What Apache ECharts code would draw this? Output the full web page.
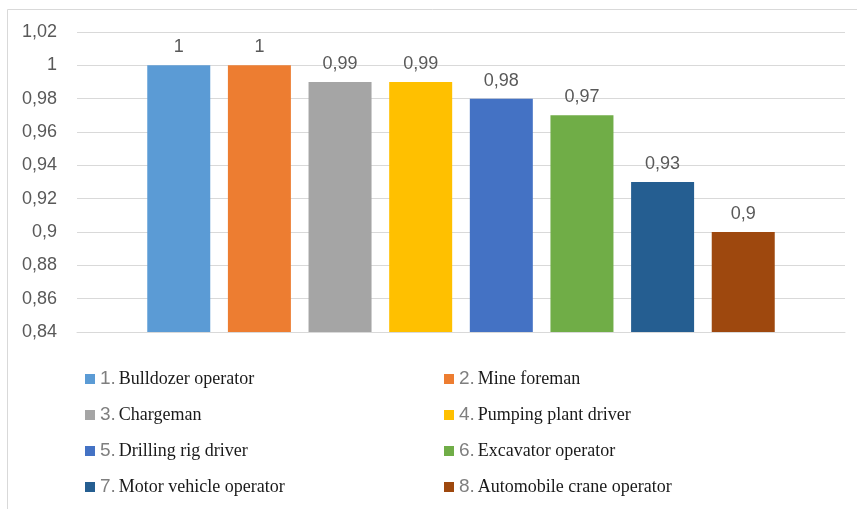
<!DOCTYPE html>
<html>
<head>
<meta charset="utf-8">
<script src="https://cdn.jsdelivr.net/npm/echarts@6/dist/echarts.min.js"></script>
<style>html,body{margin:0;padding:0;background:#fff}#c{width:857px;height:509px}</style>
</head>
<body>
<div id="c"></div>
<script>
const numbers = ['1.', '2.', '3.', '4.', '5.', '6.', '7.', '8.'];
const names = ['Bulldozer operator', 'Mine foreman', 'Chargeman', 'Pumping plant driver', 'Drilling rig driver', 'Excavator operator', 'Motor vehicle operator', 'Automobile crane operator'];
const values = [1, 1, 0.99, 0.99, 0.98, 0.97, 0.93, 0.9];
const colors = ['#5B9BD5', '#ED7D31', '#A5A5A5', '#FFC000', '#4472C4', '#70AD47', '#255E91', '#9E480E'];
const category = ['Profession'];

const fmt = v => String(parseFloat(Number(v).toFixed(4))).replace('.', ',');
const seriesNames = names.map((n, i) => numbers[i] + ' ' + n);

const chart = echarts.init(document.getElementById('c'));
const legendBase = (data, left) => ({
  data: data,
  orient: 'vertical',
  left: left,
  top: 369,
  padding: 0,
  itemWidth: 10,
  itemHeight: 10,
  itemGap: 16,
  itemTextGap: 6,
  icon: 'rect',
  formatter: function (name) {
    const i = seriesNames.indexOf(name);
    return '{n|' + numbers[i] + '}{t|' + names[i] + '}';
  },
  textStyle: {
    lineHeight: 20,
    rich: {
      n: { fontFamily: 'Liberation Sans', fontSize: 19, color: '#7f7f7f', lineHeight: 20, padding: [0, 3, 0, 0] },
      t: { fontFamily: 'Liberation Serif', fontSize: 18, color: '#1a1a1a', lineHeight: 20 }
    }
  }
});

chart.setOption({
  animation: false,
  color: colors,
  graphic: [{
    type: 'polyline',
    shape: { points: [[7.5, 509], [7.5, 9.5], [857, 9.5]] },
    style: { stroke: '#d9d9d9', lineWidth: 1, fill: null },
    silent: true
  }],
  grid: { left: 77, right: 12, top: 32, bottom: 177 },
  legend: [
    legendBase(seriesNames.filter((_, i) => i % 2 === 0), 85),
    legendBase(seriesNames.filter((_, i) => i % 2 === 1), 444)
  ],
  xAxis: {
    type: 'category',
    data: category,
    axisLine: { show: true, lineStyle: { color: '#d9d9d9' } },
    axisTick: { show: false },
    axisLabel: { show: false }
  },
  yAxis: {
    type: 'value',
    min: 0.84,
    max: 1.02,
    interval: 0.02,
    axisLine: { show: false },
    axisTick: { show: false },
    splitLine: { lineStyle: { color: '#d9d9d9', width: 1 } },
    axisLabel: {
      formatter: fmt,
      color: '#595959',
      fontFamily: 'Liberation Sans',
      fontSize: 18,
      margin: 20
    }
  },
  series: values.map((v, i) => ({
    type: 'bar',
    name: seriesNames[i],
    data: [v],
    barWidth: 63,
    barGap: '28%',
    itemStyle: { color: colors[i] },
    label: {
      show: true,
      position: 'top',
      distance: 9,
      formatter: p => fmt(p.value),
      color: '#595959',
      fontFamily: 'Liberation Sans',
      fontSize: 18
    }
  }))
});
</script>
</body>
</html>
